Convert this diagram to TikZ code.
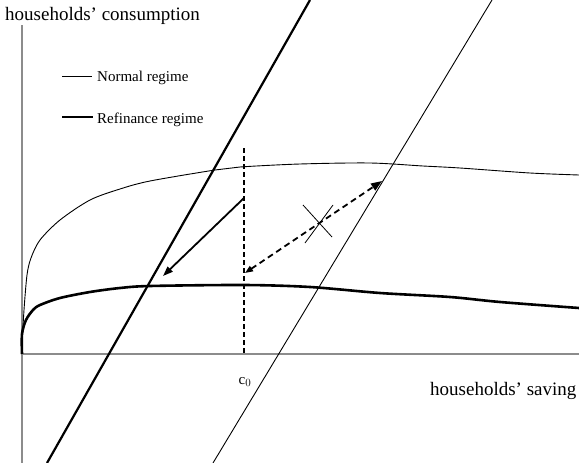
\documentclass[tikz,border=0pt]{standalone}
\usepackage{fontspec}
\setmainfont{Liberation Serif}
\usetikzlibrary{positioning,calc,arrows.meta}

\begin{document}
\begin{tikzpicture}[x=1pt, y=-1pt,
    axisline/.style={draw=black!45, line width=1.3pt},
    normalcurve/.style={line width=0.9pt},
    refinancecurve/.style={line width=2.6pt},
    lbl/.style={font=\fontsize{19}{22}\selectfont, inner sep=0pt},
    leglbl/.style={font=\fontsize{15}{18}\selectfont, inner sep=0pt},
    shifttip/.style={-{Triangle[length=10pt,width=7pt]}}]
    \useasboundingbox (0,0) rectangle (579,463);
    % Axes
    \coordinate (O) at (22,354);
    \coordinate (ytop) at (22,25);
    \coordinate (ybot) at (22,463);
    \coordinate (xend) at (579,354);
    \draw[axisline] (ytop) -- (ybot);
    \draw[axisline] (O) -- (xend);
    \node[lbl, anchor=base west] (ylabel) at (5,20) {households' consumption};
    \node[lbl, anchor=base west] (xlabel) at (430,395) {households' saving};
    % Legend
    \coordinate (ln1) at (62,76);
    \coordinate (ln2) at (92,76);
    \coordinate (lr1) at (62,117);
    \coordinate (lr2) at (93,117);
    \draw[normalcurve] (ln1) -- (ln2);
    \draw[refinancecurve] (lr1) -- (lr2);
    \node[leglbl, anchor=base west] (normlbl) at (97,81) {Normal regime};
    \node[leglbl, anchor=base west] (refilbl) at (97,123) {Refinance regime};
    % Normal regime curve
    \draw[normalcurve] plot[smooth, tension=0.5] coordinates {(22,345) (24,310) (27,275) (31,258)
        (40,240) (60,220) (90,200) (120,189) (150,181) (215,170) (240,167) (300,164)
        (370,163) (423,166) (460,168) (530,173) (579,175)};
    % Refinance regime curve
    \draw[refinancecurve] plot[smooth, tension=0.5] coordinates {(22,354) (22,334) (26,320)
        (33,310) (40,305) (60,298) (90,292) (120,288) (150,286) (244,285) (310,287)
        (380,293) (450,297) (500,302) (579,308)};
    % Steep lines
    \draw[line width=2.2pt] (47,463) -- (310,0);
    \draw[normalcurve] (213,463) -- (492,0);
    % c0
    \coordinate (c0top) at (244,148);
    \coordinate (c0) at (244,354);
    \draw[line width=2pt, dash pattern=on 5pt off 3pt] (c0top) -- (c0);
    \node[leglbl, anchor=base] (c0lbl) at (245,384) {c$_0$};
    % Shift arrows
    \coordinate (a1) at (244,198);
    \coordinate (a2) at (163,276);
    \draw[line width=1.8pt, shifttip] (a1) -- (a2);
    \coordinate (b1) at (245,273);
    \coordinate (b2) at (382,181);
    \draw[line width=1.8pt, dash pattern=on 6pt off 4pt,
        {Triangle[length=8pt,width=6pt]}-{Triangle[length=11pt,width=8pt]}] (b1) -- (b2);
    % Cross
    \coordinate (x1) at (303,205);
    \coordinate (x2) at (332,237);
    \coordinate (x3) at (305,243);
    \coordinate (x4) at (333,205);
    \draw[line width=0.8pt] (x1) -- (x2) (x3) -- (x4);
\end{tikzpicture}
\end{document}
